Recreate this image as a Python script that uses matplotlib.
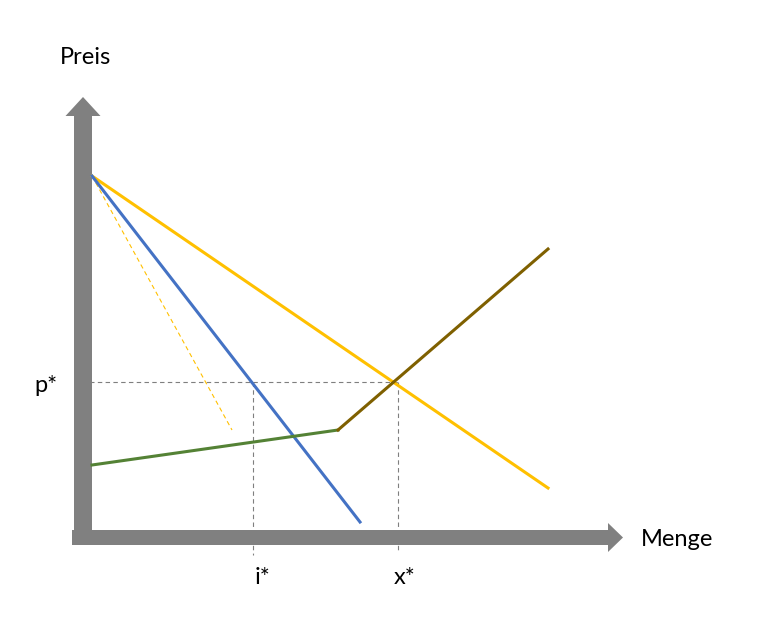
import matplotlib.pyplot as plt
from matplotlib.patches import FancyArrow

# Curves in chart units (quantity, price); origin = corner of the axes
demand_q = [0, 45.6]
demand_p = [35.4, 4.2]
mr_q = [0, 26.8]
mr_p = [35.4, 0.8]
mr_guide_q = [0, 14.0]
mr_guide_p = [35.4, 10.0]
supply_low_q = [0, 24.6]
supply_low_p = [6.5, 10.0]
supply_high_q = [24.6, 45.6]
supply_high_p = [10.0, 28.1]

p_star = 14.8
i_star = 16.1
x_star = 30.6

GRAY = "#808080"
plt.rcParams['font.family'] = ['Lato', 'DejaVu Sans']

fig = plt.figure(figsize=(7.77, 6.17), dpi=100)
ax = fig.add_axes([0, 0, 1, 1])
ax.set_xlim(-9.2, 68.5)
ax.set_ylim(-8.7, 53.0)
ax.axis('off')

# dashed guides (drawn behind the axis arrows)
ax.plot([-1.8, x_star], [p_star, p_star], color="#7f7f7f", lw=0.8, ls=(0, (4, 3)), zorder=1)
ax.plot([i_star, i_star], [p_star, -2.5], color="#7f7f7f", lw=0.8, ls=(0, (4, 3)), zorder=1)
ax.plot([x_star, x_star], [p_star, -2.2], color="#7f7f7f", lw=0.8, ls=(0, (4, 3)), zorder=1)

# axis arrows
ax.add_patch(FancyArrow(-2.0, -0.75, 55.1, 0, width=1.5, head_width=2.9,
                        head_length=1.5, length_includes_head=True,
                        color=GRAY, lw=0, zorder=2))
ax.add_patch(FancyArrow(-0.9, -0.2, 0, 43.5, width=1.8, head_width=3.5,
                        head_length=1.9, length_includes_head=True,
                        color=GRAY, lw=0, zorder=2))

# curves
ax.plot(mr_guide_q, mr_guide_p, color="#FFC000", lw=0.8, ls=(0, (4, 3)), zorder=3)
ax.plot(demand_q, demand_p, color="#FFC000", lw=2.2, zorder=4)
ax.plot(mr_q, mr_p, color="#4472C4", lw=2.2, zorder=4)
ax.plot(supply_low_q, supply_low_p, color="#548235", lw=2.2, zorder=4)
ax.plot(supply_high_q, supply_high_p, color="#7F6000", lw=2.2, zorder=4)

# labels
fs = 17
ax.text(-0.6, 47.3, "Preis", fontsize=fs, ha='center', va='center')
ax.text(54.9, -1.0, "Menge", fontsize=fs, ha='left', va='center')
ax.text(-4.6, p_star - 0.3, "p*", fontsize=fs, ha='center', va='center')
ax.text(i_star + 0.9, -4.8, "i*", fontsize=fs, ha='center', va='center')
ax.text(x_star + 0.7, -4.8, "x*", fontsize=fs, ha='center', va='center')

fig.savefig("out.png", dpi=100)
